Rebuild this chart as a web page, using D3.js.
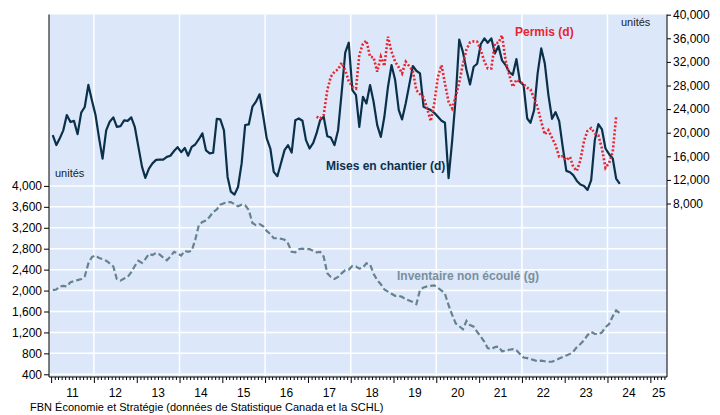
<!DOCTYPE html>
<html>
<head>
<meta charset="utf-8">
<script src="https://cdn.jsdelivr.net/npm/d3@7"></script>
<style>
  body { margin: 0; background: #fff; }
  text { font-family: "Liberation Sans", Arial, sans-serif; }
</style>
</head>
<body>
<div id="chart"></div>
<script>
// mises en chantier (annualised, right axis), monthly from Jan 2011
var startsFirst = new Date(2011, 0, 15);
var starts = [
    19600, 17900, 19000, 20400, 23000, 21800, 22000, 19750, 23400, 24350, 28100, 25500,
    23000, 19000, 15600, 20400, 21850, 22600, 21000, 21100, 22100, 22000, 22600, 21000,
    17600, 14200, 12350, 13900, 14800, 15400, 15450, 15450, 15900, 16100, 16900, 17550,
    16700, 17400, 16100, 17600, 18000, 18900, 19900, 17000, 16500, 16600, 22350, 22250,
    20400, 12500, 10000, 9500, 10800, 14800, 21300, 21400, 24400, 25250, 26500, 22980,
    19020, 17320, 13360, 12630, 14780, 17040, 17890, 16640, 22130, 22410, 22020, 18740,
    17320, 18280, 19870, 22130, 22700, 19410, 19190, 17890, 20430, 26650, 33560, 35260,
    27220, 26370, 21000, 26090, 24960, 28070, 25240, 21280, 19300, 22700, 27790, 31460,
    28920, 23830, 22240, 24960, 28070, 31300, 30500, 30050, 24390, 24110, 23830, 23370,
    22700, 22020, 21680, 12300, 18500, 26000, 35800, 33700, 30620, 28180, 31180, 31690,
    35030, 35990, 35250, 35990, 33440, 34690, 32260, 31460, 30280, 29820, 32480, 28630,
    28070, 22410, 21680, 23830, 30050, 34290, 31750, 26370, 22360, 23490, 21960, 17600,
    13530, 13300, 12800, 11830, 11210, 10980, 10300, 11950, 18740, 21450, 20550, 17320,
    16360, 15630, 12230, 11330
];

// permis (right axis), monthly from Mar 2017
var permitsFirst = new Date(2017, 2, 15);
var permits = [
    22700, 22410, 22980, 27220, 29480, 30330, 30730, 31860, 30620, 28750,
    27790, 27500, 33160, 35080, 35600, 32880, 32770, 30330, 32880, 31290, 36270, 33730,
    32030, 31070, 30050, 32030, 31290, 30500, 27220, 26540, 25980, 24110, 21960, 24960,
    29480, 31460, 28350, 25240, 24110, 26100, 28500, 31630, 34120, 35310, 35480, 35420,
    34010, 32030, 30900, 30900, 35140, 35250, 36500, 32200, 29770, 27790, 28980, 28630,
    28240, 27620, 27340, 25810, 24280, 21850, 19700, 20430, 19130, 17890, 15910, 16020,
    15340, 15910, 14210, 13530, 15340, 18620, 20320, 20770, 19870, 19580, 17320, 14040,
    14890, 16760, 22700
];

// inventaire non écoulé (left axis), monthly from Jan 2011
var inventoryFirst = new Date(2011, 0, 15);
var inventory = [
    2010, 2020, 2080, 2090, 2080, 2160, 2180, 2200, 2220, 2270, 2520, 2640,
    2670, 2620, 2600, 2570, 2520, 2460, 2220, 2190, 2230, 2260, 2350, 2470,
    2570, 2530, 2600, 2700, 2680, 2720, 2690, 2630, 2580, 2650, 2740, 2710,
    2670, 2760, 2740, 2760, 2970, 3250, 3310, 3340, 3410, 3500, 3550, 3640,
    3670, 3690, 3690, 3650, 3610, 3640, 3630, 3540, 3290, 3250, 3270, 3230,
    3140, 3080, 3000, 3000, 2990, 2970, 2900, 2740, 2730, 2790, 2800, 2790,
    2790, 2760, 2730, 2740, 2650, 2330, 2260, 2220, 2260, 2330, 2390, 2400,
    2470, 2460, 2420, 2440, 2520, 2500, 2320, 2200, 2120, 2020, 1980, 1940,
    1900, 1900, 1880, 1830, 1810, 1780, 1740, 2010, 2060, 2080, 2090, 2100,
    2050, 2000, 1940, 1720, 1540, 1370, 1320, 1260, 1420, 1340, 1310, 1210,
    1120, 1020, 900, 880, 920, 930, 840, 850, 870, 880, 860, 790,
    720, 710, 690, 670, 650, 660, 650, 640, 640, 670, 700, 730,
    760, 790, 830, 920, 980, 1050, 1150, 1210, 1170, 1170, 1200, 1300,
    1360, 1510, 1620, 1570
];

var leftTicks = [400, 800, 1200, 1600, 2000, 2400, 2800, 3200, 3600, 4000];
var rightTicks = [8000, 12000, 16000, 20000, 24000, 28000, 32000, 36000, 40000];
var years = [2011, 2012, 2013, 2014, 2015, 2016, 2017, 2018, 2019, 2020, 2021, 2022, 2023, 2024, 2025];
var yearLabels = ['11', '12', '13', '14', '15', '16', '17', '18', '19', '20', '21', '22', '23', '24', '25'];

var width = 720, height = 415;
var plotLeft = 49, plotRight = 667, plotTop = 14.5, plotBottom = 377;

var svg = d3.select('#chart').append('svg')
    .attr('width', width)
    .attr('height', height);

svg.append('rect').attr('width', width).attr('height', height).attr('fill', '#fff');

var x = d3.scaleTime()
    .domain([new Date(2010, 11, 14), new Date(2025, 4, 23)])
    .range([plotLeft, plotRight]);
var yLeft = d3.scaleLinear().domain([400, 4000]).range([374.3, 185.9]);
var yRight = d3.scaleLinear().domain([8000, 40000]).range([203.5, 14.7]);

function monthly(first, values) {
    return values.map(function(v, i) {
        return { date: d3.timeMonth.offset(first, i), value: v };
    });
}

svg.append('rect')
    .attr('x', plotLeft)
    .attr('y', plotTop)
    .attr('width', plotRight - plotLeft)
    .attr('height', plotBottom - plotTop)
    .attr('fill', '#dce8fa');

// white grid: left-axis levels and every second year
var grid = svg.append('g').attr('stroke', '#fff').attr('stroke-width', 1.5);
grid.selectAll('line.h')
    .data(leftTicks)
    .enter().append('line')
    .attr('x1', plotLeft).attr('x2', plotRight)
    .attr('y1', function(d) { return yLeft(d); })
    .attr('y2', function(d) { return yLeft(d); });
grid.selectAll('line.v')
    .data(years.filter(function(y) { return y % 2 === 0 && y < 2025; }))
    .enter().append('line')
    .attr('y1', plotTop).attr('y2', plotBottom)
    .attr('x1', function(d) { return x(new Date(d, 0, 1)); })
    .attr('x2', function(d) { return x(new Date(d, 0, 1)); });

var lineLeft = d3.line()
    .x(function(d) { return x(d.date); })
    .y(function(d) { return yLeft(d.value); });
var lineRight = d3.line()
    .x(function(d) { return x(d.date); })
    .y(function(d) { return yRight(d.value); });

svg.append('path')
    .datum(monthly(inventoryFirst, inventory))
    .attr('d', lineLeft)
    .attr('fill', 'none')
    .attr('stroke', '#67828f')
    .attr('stroke-width', 2.2)
    .attr('stroke-dasharray', '6,3');

svg.append('path')
    .datum(monthly(startsFirst, starts))
    .attr('d', lineRight)
    .attr('fill', 'none')
    .attr('stroke', '#0b3049')
    .attr('stroke-width', 2.2)
    .attr('stroke-linejoin', 'round');

svg.append('path')
    .datum(monthly(permitsFirst, permits))
    .attr('d', lineRight)
    .attr('fill', 'none')
    .attr('stroke', '#e8242e')
    .attr('stroke-width', 2.6)
    .attr('stroke-dasharray', '2,2');

// axes
var leftAxis = svg.append('g')
    .attr('transform', 'translate(' + plotLeft + ',0)')
    .call(d3.axisLeft(yLeft).tickValues(leftTicks).tickSize(5).tickPadding(2).tickFormat(d3.format(',')));
var rightAxis = svg.append('g')
    .attr('transform', 'translate(' + plotRight + ',0)')
    .call(d3.axisRight(yRight).tickValues(rightTicks).tickSize(4).tickPadding(2).tickFormat(d3.format(',')));
[leftAxis, rightAxis].forEach(function(g) {
    g.select('.domain').remove();
    g.selectAll('text').attr('font-size', 12).attr('fill', '#000')
        .attr('font-family', '"Liberation Sans", Arial, sans-serif');
});

var monthTicks = d3.timeMonth.range(new Date(2011, 0, 1), new Date(2025, 5, 1))
    .filter(function(d) { return x(d) <= plotRight; });
svg.append('g')
    .attr('transform', 'translate(0,' + plotBottom + ')')
    .call(d3.axisBottom(x).tickValues(monthTicks.filter(function(d) { return d.getMonth() !== 0; }))
        .tickSize(3).tickFormat(''))
    .select('.domain').remove();
svg.append('g')
    .attr('transform', 'translate(0,' + plotBottom + ')')
    .call(d3.axisBottom(x).tickValues(monthTicks.filter(function(d) { return d.getMonth() === 0; }))
        .tickSize(6).tickFormat(''))
    .select('.domain').remove();

svg.append('g').selectAll('text')
    .data(years)
    .enter().append('text')
    .attr('x', function(d) {
        var a = Math.max(x(new Date(d, 0, 1)), plotLeft);
        var b = Math.min(x(new Date(d + 1, 0, 1)), plotRight);
        return (a + b) / 2;
    })
    .attr('y', 397)
    .attr('text-anchor', 'middle')
    .attr('font-size', 12)
    .text(function(d, i) { return yearLabels[i]; });

var frame = svg.append('g').attr('stroke', '#000').attr('stroke-width', 1);
frame.append('line').attr('x1', plotLeft).attr('x2', plotLeft).attr('y1', plotTop).attr('y2', plotBottom);
frame.append('line').attr('x1', plotRight).attr('x2', plotRight).attr('y1', plotTop).attr('y2', plotBottom);
frame.append('line').attr('x1', plotLeft).attr('x2', plotRight).attr('y1', plotBottom).attr('y2', plotBottom);

// labels
svg.append('text').attr('x', 55).attr('y', 177).attr('font-size', 11).attr('fill', '#222').text('unités');
svg.append('text').attr('x', 621).attr('y', 26).attr('font-size', 11).attr('fill', '#222').text('unités');
svg.append('text').attr('x', 515).attr('y', 36).attr('font-size', 12).attr('font-weight', 'bold')
    .attr('fill', '#e8242e').text('Permis (d)');
svg.append('text').attr('x', 326).attr('y', 170).attr('font-size', 12).attr('font-weight', 'bold')
    .attr('fill', '#0b3049').text('Mises en chantier (d)');
svg.append('text').attr('x', 397).attr('y', 280).attr('font-size', 12).attr('font-weight', 'bold')
    .attr('fill', '#7a8f9b').text('Inventaire non écoulé (g)');
svg.append('text').attr('x', 30).attr('y', 411).attr('font-size', 11).attr('fill', '#000')
    .text('FBN Économie et Stratégie (données de Statistique Canada et la SCHL)');
</script>
</body>
</html>
